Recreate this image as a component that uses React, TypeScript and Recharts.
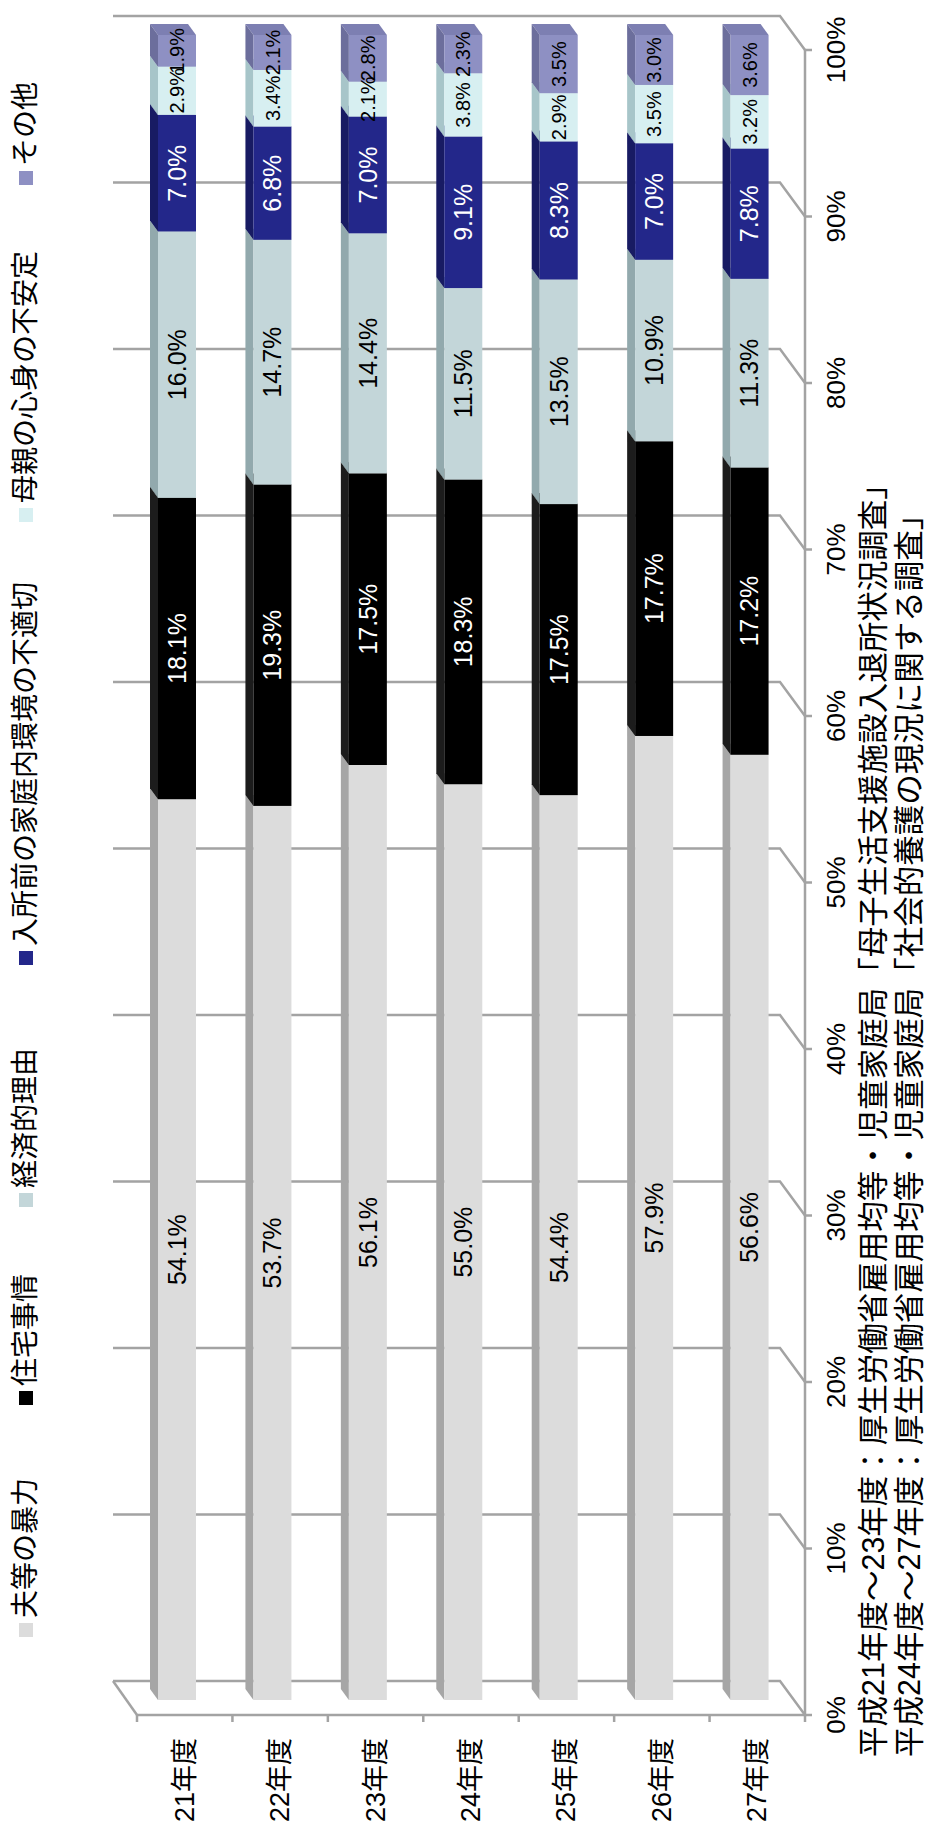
import {
  BarChart,
  Bar,
  XAxis,
  YAxis,
  CartesianGrid,
  Legend,
  LabelList,
} from "recharts";

const YEARS = ["21年度", "22年度", "23年度", "24年度", "25年度", "26年度", "27年度"];

// reasons for admission, % per fiscal year
const VIOLENCE = [54.1, 53.7, 56.1, 55.0, 54.4, 57.9, 56.6];
const HOUSING = [18.1, 19.3, 17.5, 18.3, 17.5, 17.7, 17.2];
const ECONOMIC = [16.0, 14.7, 14.4, 11.5, 13.5, 10.9, 11.3];
const HOME_ENV = [7.0, 6.8, 7.0, 9.1, 8.3, 7.0, 7.8];
const MOTHER = [2.9, 3.4, 2.1, 3.8, 2.9, 3.5, 3.2];
const OTHER = [1.9, 2.1, 2.8, 2.3, 3.5, 3.0, 3.6];

const PCT_TICKS = [0, 0.1, 0.2, 0.3, 0.4, 0.5, 0.6, 0.7, 0.8, 0.9, 1];

const SOURCES = [
  "平成21年度～23年度：厚生労働省雇用均等・児童家庭局「母子生活支援施設入退所状況調査」",
  "平成24年度～27年度：厚生労働省雇用均等・児童家庭局「社会的養護の現況に関する調査」",
];

const SERIES = [
  { key: "violence", name: "夫等の暴力", values: VIOLENCE },
  { key: "housing", name: "住宅事情", values: HOUSING },
  { key: "economic", name: "経済的理由", values: ECONOMIC },
  { key: "homeEnv", name: "入所前の家庭内環境の不適切", values: HOME_ENV },
  { key: "mother", name: "母親の心身の不安定", values: MOTHER },
  { key: "other", name: "その他", values: OTHER },
];

// face / top face / end face / label colour / label size, same order as SERIES
const LOOK = [
  { face: "#dcdcdc", top: "#a6a6a6", end: "#c8c8c8", text: "#000", size: 25 },
  { face: "#000000", top: "#1c1c1c", end: "#111111", text: "#fff", size: 25 },
  { face: "#c3d6d9", top: "#92a9ad", end: "#aec2c5", text: "#000", size: 25 },
  { face: "#23278a", top: "#181b63", end: "#1e2277", text: "#fff", size: 25 },
  { face: "#d7eff1", top: "#a7c5c9", end: "#c3dde0", text: "#000", size: 20 },
  { face: "#8e90c3", top: "#6c6e9c", end: "#7d7fb2", text: "#000", size: 20 },
];

const rows = YEARS.map((year, i) => {
  const row: Record<string, string | number> = { year };
  SERIES.forEach((s) => (row[s.key] = s.values[i]));
  return row;
});

// chart is laid out landscape and turned a quarter turn
const W = 1836;
const H = 927;
const BACK = 19; // back wall offset from bar face (x)
const FRONT = 15; // front axis offset from bar face (x)
const WALL_TOP = 113;
const WALL_BOTTOM = 780;
const AXIS_Y = 805;
const AXIS_X = 121;
const CAT_TOP = 137;
const BAND = (AXIS_Y - CAT_TOP) / YEARS.length;
const DX = 11;
const DY = 8;
const GRID = "#a3a3a3";
const FONT = '"Liberation Sans", Arial, "Noto Sans CJK JP", sans-serif';

const LEGEND_LEFT = [199, 431, 629, 871, 1314, 1651];

function box(look: (typeof LOOK)[number]) {
  return (p: any) => {
    const { x, y, width: w, height: h } = p;
    if (!w || w <= 0) return <g />;
    return (
      <g>
        <path
          d={`M${x + w},${y} L${x + w + DX},${y - DY} L${x + w + DX},${y + h - DY} L${x + w},${y + h} Z`}
          fill={look.end}
        />
        <path
          d={`M${x},${y} L${x + w},${y} L${x + w + DX},${y - DY} L${x + DX},${y - DY} Z`}
          fill={look.top}
        />
        <rect x={x} y={y} width={w} height={h} fill={look.face} />
      </g>
    );
  };
}

function gridLine(p: any) {
  const x = p.x1;
  return (
    <g key={p.key}>
      {p.index === 0 && (
        <g stroke={GRID} strokeWidth={2.5} fill="none">
          <path d={`M${AXIS_X},${CAT_TOP} L${x + BACK},${WALL_TOP}`} />
          <path d={`M${AXIS_X},${CAT_TOP} L${AXIS_X},${AXIS_Y} L${W - 50},${AXIS_Y}`} />
        </g>
      )}
      <path
        d={`M${x + BACK},${WALL_TOP} L${x + BACK},${WALL_BOTTOM} L${x - FRONT},${AXIS_Y}`}
        stroke={GRID}
        strokeWidth={2.5}
        fill="none"
      />
    </g>
  );
}

function PctTick(p: any) {
  const x = p.x - FRONT;
  const v = p.payload.value as number;
  return (
    <g>
      <line x1={x} y1={AXIS_Y} x2={x} y2={AXIS_Y + 7} stroke={GRID} strokeWidth={2.5} />
      <text
        x={x}
        y={836}
        textAnchor="middle"
        dominantBaseline="central"
        fontSize={26}
        fill="#000"
      >
        {`${Math.round(v * 100)}%`}
      </text>
    </g>
  );
}

function YearTick(p: any) {
  const cy = p.y + 8;
  const last = p.index === YEARS.length - 1;
  return (
    <g>
      <line x1={AXIS_X - 7} y1={cy - BAND / 2} x2={AXIS_X} y2={cy - BAND / 2} stroke={GRID} strokeWidth={2.5} />
      {last && (
        <line x1={AXIS_X - 7} y1={cy + BAND / 2} x2={AXIS_X} y2={cy + BAND / 2} stroke={GRID} strokeWidth={2.5} />
      )}
      <text x={98} y={cy} textAnchor="end" dominantBaseline="central" fontSize={27} fill="#000">
        {p.payload.value}
      </text>
    </g>
  );
}

function LegendRow() {
  return (
    <div style={{ position: "relative", width: W, height: 52 }}>
      {SERIES.map((s, i) => (
        <div
          key={s.key}
          style={{
            position: "absolute",
            left: LEGEND_LEFT[i],
            top: 12,
            height: 28,
            display: "flex",
            alignItems: "center",
            whiteSpace: "nowrap",
            fontSize: 28,
            lineHeight: "28px",
            color: "#000",
          }}
        >
          <span
            style={{
              display: "inline-block",
              width: 14,
              height: 14,
              background: LOOK[i].face,
              marginRight: 5,
            }}
          />
          {s.name}
        </div>
      ))}
    </div>
  );
}

export default function App() {
  return (
    <div
      style={{
        position: "fixed",
        left: 0,
        top: 0,
        width: H,
        height: W,
        overflow: "hidden",
        background: "#fff",
        fontFamily: FONT,
      }}
    >
      <div
        style={{
          position: "absolute",
          left: 0,
          top: 0,
          width: W,
          height: H,
          transform: `translate(0px, ${W}px) rotate(-90deg)`,
          transformOrigin: "0 0",
        }}
      >
        <BarChart
          width={W}
          height={H}
          data={rows}
          layout="vertical"
          stackOffset="expand"
          barSize={38}
          margin={{ top: 129, right: 35, bottom: 90, left: 96 }}
        >
          <CartesianGrid horizontal={false} vertical={gridLine} />
          <XAxis
            type="number"
            domain={[0, 1]}
            ticks={PCT_TICKS}
            interval={0}
            height={40}
            axisLine={false}
            tickLine={false}
            tick={(p: any) => <PctTick {...p} />}
          />
          <YAxis
            type="category"
            dataKey="year"
            width={40}
            interval={0}
            axisLine={false}
            tickLine={false}
            tick={(p: any) => <YearTick {...p} />}
          />
          <Legend
            layout="vertical"
            align="center"
            verticalAlign="middle"
            wrapperStyle={{ top: 0, left: 0, width: W, height: 52 }}
            content={() => <LegendRow />}
          />
          {SERIES.map((s, i) => (
            <Bar
              key={s.key}
              dataKey={s.key}
              name={s.name}
              stackId="all"
              fill={LOOK[i].face}
              shape={box(LOOK[i])}
              isAnimationActive={false}
            >
              <LabelList
                dataKey={s.key}
                position="center"
                fill={LOOK[i].text}
                fontSize={LOOK[i].size}
                formatter={(v: any) => `${Number(v).toFixed(1)}%`}
              />
            </Bar>
          ))}
        </BarChart>
        {SOURCES.map((line, i) => (
          <div
            key={i}
            style={{
              position: "absolute",
              left: 79,
              top: 857 + i * 36,
              fontSize: 30.5,
              lineHeight: "32px",
              whiteSpace: "nowrap",
              color: "#000",
            }}
          >
            {line}
          </div>
        ))}
      </div>
    </div>
  );
}
